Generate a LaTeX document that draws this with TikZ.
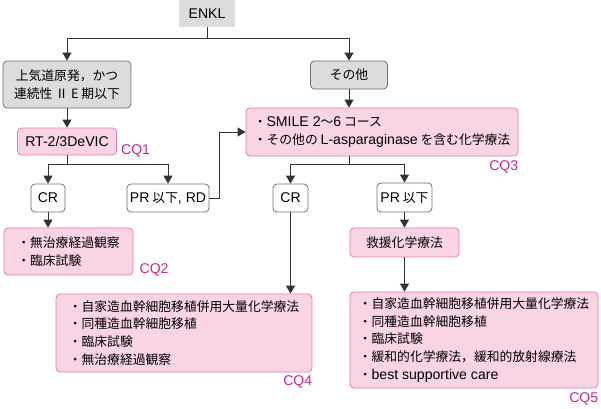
\documentclass[tikz,border=0pt]{standalone}
\usepackage{fontspec}
\setmainfont{Noto Sans CJK JP}
\newfontfamily\latfont[Scale=1.1]{Liberation Sans}
\newcommand{\lat}[1]{{\latfont #1}}
\usetikzlibrary{arrows.meta}
\definecolor{fillgray}{HTML}{DCDCDC}
\definecolor{edgegray}{HTML}{707070}
\definecolor{pinkfill}{HTML}{F9D4E5}
\definecolor{pinkedge}{HTML}{E47BB1}
\definecolor{cqcolor}{HTML}{D3228C}
\definecolor{conncolor}{HTML}{333333}

\begin{document}
\begin{tikzpicture}[x=1bp, y=-1bp,
    font=\fontsize{12.8bp}{17.8bp}\selectfont,
    box/.style={rounded corners=4bp, line width=0.8bp, inner sep=0pt, align=center},
    topbox/.style={fill=fillgray, inner sep=0pt},
    graybox/.style={box, draw=edgegray, fill=fillgray},
    whitebox/.style={box, draw=edgegray, fill=white},
    pinkbox/.style={box, draw=pinkedge, fill=pinkfill},
    listbox/.style={pinkbox, align=left},
    cq/.style={text=cqcolor, inner sep=0pt, font=\fontsize{12.8bp}{14bp}\selectfont\latfont},
    conn/.style={draw=conncolor, line width=1bp},
    arr/.style={conn, -{Triangle[width=9bp, length=8bp]}}]
    \useasboundingbox (0,0) rectangle (601,408);

    % Left branch
    \node[topbox, minimum width=56bp, minimum height=27bp] (enkl) at (207,13.5) {\lat{ENKL}};
    \node[graybox, minimum width=128bp, minimum height=47bp] (upper) at (67,84.5) {上気道原発，かつ\\連続性 Ⅱ E 期以下};
    \node[pinkbox, minimum width=99bp, minimum height=27bp] (rt) at (67,141.5) {\lat{RT-2/3DeVIC}};
    \node[whitebox, minimum width=34bp, minimum height=28bp] (cr1) at (48,198) {\lat{CR}};
    \node[whitebox, minimum width=82bp, minimum height=28bp] (prrd) at (168,198) {\lat{PR} 以下\lat{, RD}};
    \node[listbox, minimum width=129bp, minimum height=47bp] (obs) at (68.5,251.5) {・無治療経過観察\\・臨床試験};

    % Right branch
    \node[graybox, minimum width=77bp, minimum height=28bp] (other) at (349,75) {その他};
    \node[listbox, minimum width=272bp, minimum height=48bp] (smile) at (382,132) {・\lat{SMILE 2}〜\lat{6} コース\\・その他の \lat{L-asparaginase} を含む化学療法};
    \node[whitebox, minimum width=35bp, minimum height=28bp] (cr2) at (290.5,198) {\lat{CR}};
    \node[whitebox, minimum width=55bp, minimum height=29bp] (pr2) at (404.5,197.5) {\lat{PR} 以下};
    \node[pinkbox, minimum width=109bp, minimum height=29bp] (salvage) at (404.5,242.5) {救援化学療法};
    \node[listbox, minimum width=256bp, minimum height=78bp] (crtx) at (184,333) {・自家造血幹細胞移植併用大量化学療法\\・同種造血幹細胞移植\\・臨床試験\\・無治療経過観察};
    \node[listbox, minimum width=248bp, minimum height=96bp] (prtx) at (474,340) {・自家造血幹細胞移植併用大量化学療法\\・同種造血幹細胞移植\\・臨床試験\\・緩和的化学療法，緩和的放射線療法\\・\lat{best supportive care}};

    % CQ labels
    \node[cq, anchor=base west] (cq1) at ([xshift=4bp, yshift=1bp]rt.south east) {CQ1};
    \node[cq, anchor=base west] (cq2) at ([xshift=6bp, yshift=2bp]obs.south east) {CQ2};
    \node[cq, anchor=base east] (cq3) at ([yshift=-14bp]smile.south east) {CQ3};
    \node[cq, anchor=base east] (cq4) at ([yshift=-13bp]crtx.south east) {CQ4};
    \node[cq, anchor=base east] (cq5) at ([yshift=-14.5bp]prtx.south east) {CQ5};

    % Connectors
    \coordinate (enklsplit) at (207,38);
    \coordinate (rtsplit) at (67,164);
    \coordinate (smilesplit) at (349,164);
    \draw[conn] (enkl) -- (enklsplit);
    \draw[arr] (enklsplit) -| (upper);
    \draw[arr] (enklsplit) -| (other);
    \draw[arr] (upper) -- (rt);
    \draw[conn] (rt) -- (rtsplit);
    \draw[arr] (rtsplit) -| (cr1);
    \draw[arr] (rtsplit) -| (prrd);
    \draw[arr] (cr1) -- (cr1 |- obs.north);
    \draw[arr] (prrd.east) -- ++(10,0) |- (smile.west);
    \draw[arr] (other) -- (other |- smile.north);
    \draw[conn] (other |- smile.south) -- (smilesplit);
    \draw[arr] (smilesplit) -| (cr2);
    \draw[arr] (smilesplit) -| (pr2);
    \draw[arr] (cr2) -- (cr2 |- crtx.north);
    \draw[arr] (pr2) -- (salvage);
    \draw[arr] (salvage) -- (salvage |- prtx.north);
\end{tikzpicture}
\end{document}
